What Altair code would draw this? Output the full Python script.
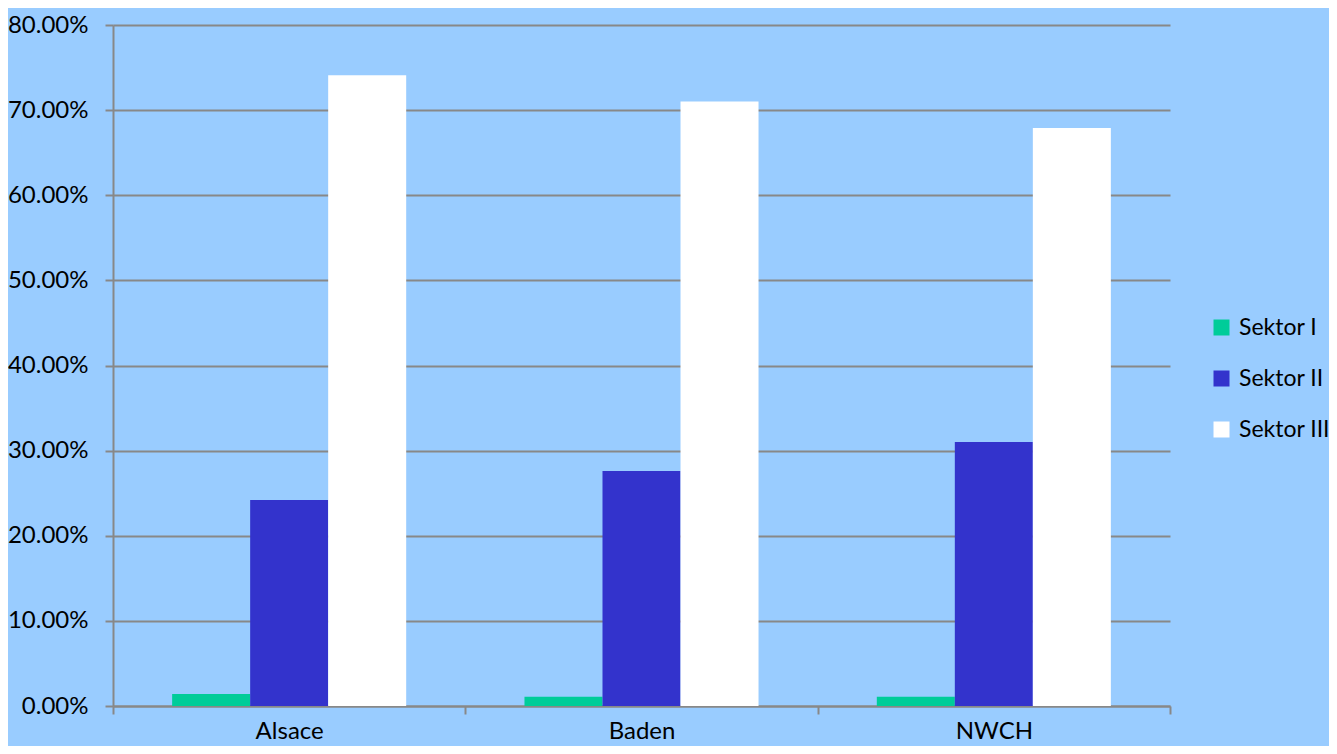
import altair as alt
import pandas as pd

regions = ["Alsace", "Baden", "NWCH"]
sectors = ["Sektor I", "Sektor II", "Sektor III"]
sektor_1 = [0.014, 0.011, 0.011]
sektor_2 = [0.242, 0.276, 0.310]
sektor_3 = [0.741, 0.710, 0.679]
y_ticks = [0.0, 0.1, 0.2, 0.3, 0.4, 0.5, 0.6, 0.7, 0.8]
colors = ["#00CC99", "#3333CC", "#FFFFFF"]

rows = []
for i, r in enumerate(regions):
    for s, vals in zip(sectors, [sektor_1, sektor_2, sektor_3]):
        rows.append({"Region": r, "Sektor": s, "Wert": vals[i]})
df = pd.DataFrame(rows)

FONT = "Lato"
GRID = "#888888"

chart = alt.Chart(df).mark_bar(strokeWidth=0).encode(
    x=alt.X("Region:N", sort=regions, title=None,
            scale=alt.Scale(paddingInner=0, paddingOuter=0),
            axis=alt.Axis(labelAngle=0, tickBand="extent", grid=False,
                          labelFont=FONT, labelFontSize=24, labelColor="black",
                          labelBaseline="top", labelPadding=5,
                          tickSize=8, tickColor=GRID, tickWidth=2,
                          domainColor=GRID, domainWidth=2)),
    xOffset=alt.XOffset("Sektor:N", sort=sectors,
                        scale=alt.Scale(paddingInner=0, paddingOuter=0.758)),
    y=alt.Y("Wert:Q", title=None,
            scale=alt.Scale(domain=[0, 0.8], nice=False),
            axis=alt.Axis(values=y_ticks, format=".2%",
                          labelFont=FONT, labelFontSize=24, labelColor="black",
                          labelPadding=17, tickSize=8, tickColor=GRID, tickWidth=2,
                          domainColor=GRID, domainWidth=2,
                          gridColor=GRID, gridWidth=2, gridOpacity=1)),
    color=alt.Color("Sektor:N", sort=sectors, title=None,
                    scale=alt.Scale(domain=sectors, range=colors),
                    legend=alt.Legend(orient="none", legendX=1097, legendY=291,
                                      symbolType="square", symbolSize=256,
                                      symbolStrokeWidth=0, symbolOpacity=1,
                                      labelFont=FONT, labelFontSize=23,
                                      labelColor="black", labelOffset=6,
                                      labelLimit=200,
                                      rowPadding=27, padding=0)),
).properties(
    width=1057, height=681,
    background="#99CCFF",
    padding={"left": 105, "top": 17, "right": 159, "bottom": 40},
    autosize=alt.AutoSizeParams(type="none"),
).configure_view(stroke=None, fill="#99CCFF")

chart.save("out.html", embed_options={"renderer": "svg", "actions": False})
